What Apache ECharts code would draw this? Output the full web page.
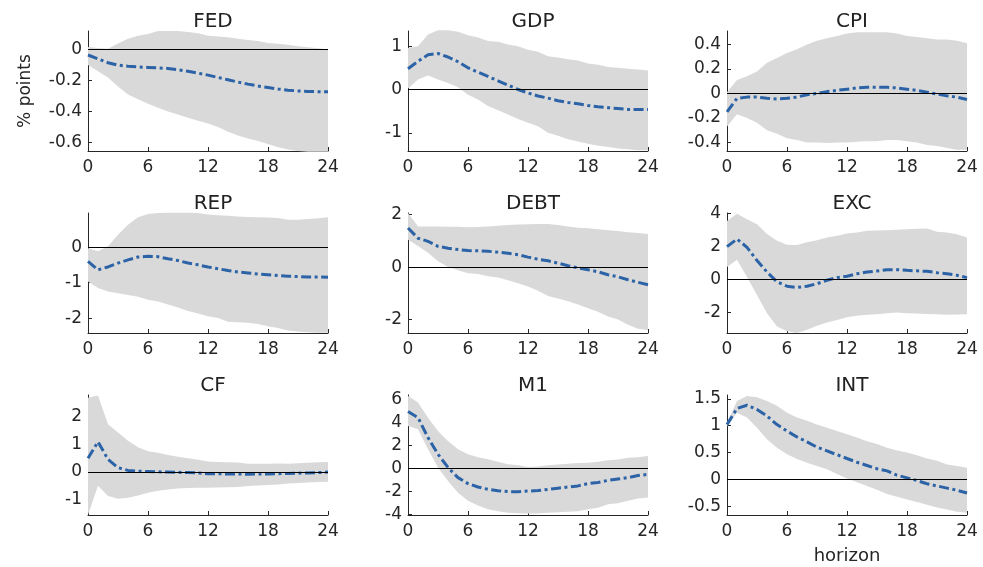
<!DOCTYPE html>
<html lang="en">
<head>
    <meta charset="UTF-8">
    <script src="https://cdn.jsdelivr.net/npm/echarts@6/dist/echarts.min.js"></script>
    <title>Impulse responses</title>
    <style>
        html, body { margin: 0; padding: 0; background: #fff; }
        #main { width: 983px; height: 567px; }
    </style>
</head>
<body>
    <div id="main"></div>
    <script>
        // horizons 0..24
        var horizon = ['0', '1', '2', '3', '4', '5', '6', '7', '8', '9', '10', '11', '12', '13', '14', '15', '16', '17', '18', '19', '20', '21', '22', '23', '24'];
        var names = ['FED', 'GDP', 'CPI', 'REP', 'DEBT', 'EXC', 'CF', 'M1', 'INT'];

        // point estimates (dash-dot line)
        var fedIrf = [-0.035, -0.06, -0.085, -0.1, -0.108, -0.112, -0.115, -0.118, -0.122, -0.13, -0.14, -0.152, -0.165, -0.18, -0.195, -0.21, -0.223, -0.235, -0.245, -0.255, -0.262, -0.267, -0.27, -0.272, -0.273];
        var gdpIrf = [0.48, 0.65, 0.8, 0.83, 0.75, 0.64, 0.5, 0.4, 0.3, 0.2, 0.1, 0.0, -0.08, -0.15, -0.2, -0.26, -0.3, -0.33, -0.37, -0.4, -0.42, -0.44, -0.46, -0.46, -0.46];
        var cpiIrf = [-0.15, -0.04, -0.03, -0.03, -0.04, -0.045, -0.04, -0.03, -0.01, 0.0, 0.015, 0.025, 0.035, 0.045, 0.05, 0.05, 0.05, 0.045, 0.035, 0.025, 0.01, -0.005, -0.02, -0.03, -0.05];
        var repIrf = [-0.4, -0.64, -0.56, -0.45, -0.36, -0.28, -0.26, -0.27, -0.33, -0.38, -0.45, -0.5, -0.56, -0.61, -0.66, -0.7, -0.73, -0.76, -0.78, -0.8, -0.82, -0.83, -0.84, -0.84, -0.85];
        var debtIrf = [1.49, 1.1, 0.98, 0.79, 0.72, 0.67, 0.63, 0.62, 0.6, 0.57, 0.53, 0.47, 0.38, 0.3, 0.24, 0.15, 0.05, -0.03, -0.1, -0.18, -0.29, -0.37, -0.48, -0.58, -0.67];
        var excIrf = [2.0, 2.46, 1.96, 1.16, 0.46, -0.14, -0.4, -0.48, -0.4, -0.25, -0.04, 0.12, 0.2, 0.35, 0.46, 0.52, 0.6, 0.6, 0.56, 0.53, 0.5, 0.42, 0.36, 0.26, 0.12];
        var cfIrf = [0.5, 1.1, 0.46, 0.16, 0.06, 0.03, 0.02, 0.01, 0.0, -0.01, -0.02, -0.03, -0.06, -0.06, -0.07, -0.07, -0.08, -0.07, -0.07, -0.06, -0.05, -0.04, -0.03, -0.02, 0.0];
        var m1Irf = [4.96, 4.43, 2.7, 1.25, 0.1, -0.78, -1.3, -1.6, -1.8, -1.92, -2.0, -2.0, -1.95, -1.9, -1.8, -1.7, -1.6, -1.5, -1.3, -1.2, -1.02, -0.9, -0.78, -0.6, -0.5];
        var intIrf = [1.02, 1.32, 1.38, 1.3, 1.18, 1.02, 0.9, 0.79, 0.7, 0.6, 0.53, 0.46, 0.39, 0.32, 0.26, 0.2, 0.16, 0.08, 0.03, -0.02, -0.08, -0.12, -0.16, -0.2, -0.25];

        // upper bands
        var fedHi = [0.017, 0.01, 0.006, 0.04, 0.07, 0.09, 0.1, 0.12, 0.12, 0.12, 0.113, 0.105, 0.09, 0.085, 0.08, 0.07, 0.062, 0.055, 0.043, 0.038, 0.032, 0.021, 0.015, 0.008, 0.0];
        var gdpHi = [0.96, 1.0, 1.27, 1.37, 1.37, 1.33, 1.25, 1.2, 1.12, 1.1, 1.04, 1.0, 0.92, 0.87, 0.77, 0.74, 0.7, 0.67, 0.6, 0.57, 0.52, 0.5, 0.48, 0.46, 0.44];
        var cpiHi = [0.01, 0.11, 0.14, 0.18, 0.25, 0.29, 0.33, 0.36, 0.4, 0.43, 0.45, 0.47, 0.49, 0.5, 0.5, 0.5, 0.5, 0.49, 0.47, 0.46, 0.45, 0.44, 0.44, 0.43, 0.41];
        var repHi = [-0.03, -0.12, 0.02, 0.35, 0.63, 0.84, 0.93, 0.96, 0.97, 0.97, 0.97, 0.96, 0.92, 0.9, 0.88, 0.86, 0.85, 0.84, 0.83, 0.82, 0.77, 0.77, 0.79, 0.81, 0.84];
        var debtHi = [2.06, 1.55, 1.55, 1.55, 1.54, 1.54, 1.52, 1.53, 1.55, 1.57, 1.6, 1.62, 1.63, 1.64, 1.64, 1.6, 1.55, 1.5, 1.48, 1.44, 1.4, 1.37, 1.33, 1.3, 1.26];
        var excHi = [3.56, 4.0, 3.66, 3.36, 2.76, 2.36, 2.12, 2.1, 2.26, 2.38, 2.56, 2.66, 2.8, 2.86, 2.96, 2.98, 3.0, 3.02, 3.06, 3.08, 3.1, 2.9, 2.86, 2.75, 2.56];
        var cfHi = [2.7, 2.78, 1.74, 1.44, 1.14, 0.9, 0.76, 0.7, 0.62, 0.56, 0.5, 0.45, 0.38, 0.37, 0.36, 0.35, 0.3, 0.3, 0.3, 0.31, 0.3, 0.32, 0.34, 0.36, 0.37];
        var m1Hi = [6.32, 5.74, 4.43, 3.28, 2.4, 1.68, 1.25, 1.0, 0.81, 0.6, 0.38, 0.3, 0.15, 0.18, 0.29, 0.35, 0.43, 0.5, 0.52, 0.6, 0.72, 0.8, 0.95, 1.0, 1.1];
        var intHi = [1.06, 1.46, 1.55, 1.53, 1.46, 1.37, 1.24, 1.15, 1.09, 1.02, 0.96, 0.9, 0.84, 0.78, 0.71, 0.66, 0.59, 0.54, 0.5, 0.45, 0.39, 0.35, 0.28, 0.25, 0.22];

        // lower bands
        var fedLo = [-0.1, -0.14, -0.18, -0.238, -0.29, -0.32, -0.35, -0.375, -0.4, -0.42, -0.44, -0.46, -0.477, -0.5, -0.53, -0.555, -0.575, -0.59, -0.61, -0.63, -0.645, -0.655, -0.66, -0.66, -0.66];
        var gdpLo = [0.02, 0.23, 0.32, 0.23, 0.15, 0.05, -0.12, -0.23, -0.38, -0.48, -0.58, -0.68, -0.77, -0.85, -1.0, -1.07, -1.15, -1.2, -1.25, -1.3, -1.33, -1.36, -1.38, -1.4, -1.4];
        var cpiLo = [-0.27, -0.17, -0.2, -0.24, -0.3, -0.33, -0.365, -0.38, -0.4, -0.4, -0.405, -0.4, -0.4, -0.395, -0.39, -0.39, -0.38, -0.38, -0.39, -0.4, -0.42, -0.43, -0.445, -0.46, -0.46];
        var repLo = [-0.97, -1.15, -1.25, -1.3, -1.35, -1.4, -1.48, -1.53, -1.62, -1.7, -1.8, -1.87, -1.95, -2.0, -2.1, -2.12, -2.13, -2.17, -2.23, -2.28, -2.35, -2.38, -2.4, -2.41, -2.41];
        var debtLo = [1.04, 0.8, 0.55, 0.22, 0.0, -0.12, -0.23, -0.26, -0.35, -0.4, -0.5, -0.62, -0.74, -0.9, -1.1, -1.2, -1.3, -1.42, -1.57, -1.7, -1.88, -2.0, -2.2, -2.35, -2.4];
        var excLo = [0.76, 1.2, 0.16, -0.94, -2.04, -2.84, -3.14, -3.24, -3.04, -2.8, -2.6, -2.45, -2.28, -2.2, -2.14, -2.1, -2.04, -2.0, -2.04, -2.06, -2.08, -2.1, -2.14, -2.12, -2.1];
        var cfLo = [-1.55, -0.5, -0.87, -0.97, -0.93, -0.85, -0.75, -0.68, -0.63, -0.6, -0.58, -0.57, -0.57, -0.56, -0.55, -0.54, -0.51, -0.49, -0.47, -0.45, -0.42, -0.4, -0.38, -0.36, -0.35];
        var m1Lo = [3.7, 3.42, 1.68, 0.1, -1.07, -2.1, -2.8, -3.2, -3.54, -3.7, -3.83, -3.88, -3.9, -3.9, -3.83, -3.8, -3.75, -3.7, -3.54, -3.4, -3.1, -3.0, -2.8, -2.6, -2.5];
        var intLo = [0.99, 1.24, 1.15, 0.96, 0.75, 0.59, 0.47, 0.38, 0.31, 0.25, 0.19, 0.1, 0.02, -0.05, -0.12, -0.19, -0.27, -0.32, -0.37, -0.42, -0.47, -0.52, -0.56, -0.6, -0.62];

        // y ticks and limits per panel
        var yTicks = [
            [-0.6, -0.4, -0.2, 0],
            [-1, 0, 1],
            [-0.4, -0.2, 0, 0.2, 0.4],
            [-2, -1, 0],
            [-2, 0, 2],
            [-2, 0, 2, 4],
            [-1, 0, 1, 2],
            [-4, -2, 0, 2, 4, 6],
            [-0.5, 0, 0.5, 1, 1.5]
        ];
        var yMin = [-0.655, -1.42, -0.47, -2.42, -2.51, -3.24, -1.56, -4.03, -0.66];
        var yMax = [0.12, 1.35, 0.51, 0.96, 2.06, 4.04, 2.8, 6.4, 1.57];

        var irfs = [fedIrf, gdpIrf, cpiIrf, repIrf, debtIrf, excIrf, cfIrf, m1Irf, intIrf];
        var his = [fedHi, gdpHi, cpiHi, repHi, debtHi, excHi, cfHi, m1Hi, intHi];
        var los = [fedLo, gdpLo, cpiLo, repLo, debtLo, excLo, cfLo, m1Lo, intLo];

        var colLeft = [88, 408, 727];
        var rowTop = [31, 213, 395];
        var plotW = 240, plotH = 120;

        var axisColor = '#262626';
        var font = 'DejaVu Sans';

        var chart = echarts.init(document.getElementById('main'));

        var grids = [], xAxes = [], yAxes = [], titles = [], series = [];

        for (var i = 0; i < 9; i++) {
            var c = i % 3, r = Math.floor(i / 3);
            grids.push({ left: colLeft[c], top: rowTop[r], width: plotW, height: plotH, containLabel: false });

            titles.push({
                text: names[i],
                left: colLeft[c] + plotW / 2,
                top: rowTop[r] - 24,
                textAlign: 'center',
                textStyle: { fontFamily: font, fontSize: 20, fontWeight: 'normal', color: '#222' }
            });

            xAxes.push({
                type: 'category', gridIndex: i, data: horizon, boundaryGap: false,
                axisLine: { onZero: false, lineStyle: { color: axisColor, width: 1 } },
                axisTick: { inside: true, length: 4, interval: 5, lineStyle: { color: axisColor } },
                axisLabel: { fontFamily: font, fontSize: 17, color: '#262626', margin: 8, interval: 5 },
                splitLine: { show: false },
                name: i === 8 ? 'horizon' : '',
                nameLocation: 'middle', nameGap: 32,
                nameTextStyle: { fontFamily: font, fontSize: 18, color: '#262626' }
            });

            yAxes.push({
                type: 'value', gridIndex: i, min: yMin[i], max: yMax[i],
                axisLine: { show: true, onZero: false, lineStyle: { color: axisColor, width: 1 } },
                axisTick: { show: true, inside: true, length: 4, customValues: yTicks[i], lineStyle: { color: axisColor } },
                axisLabel: { fontFamily: font, fontSize: 17, color: '#262626', margin: 6, customValues: yTicks[i] },
                splitLine: { show: false },
                name: i === 0 ? '% points' : '',
                nameLocation: 'middle', nameGap: 54, nameRotate: 90,
                nameTextStyle: { fontFamily: font, fontSize: 17, color: '#262626' }
            });

            var width = his[i].map(function (v, k) { return v - los[i][k]; });

            series.push({
                type: 'line', xAxisIndex: i, yAxisIndex: i,
                stack: 'band' + i, stackStrategy: 'all',
                data: los[i], symbol: 'none', silent: true,
                lineStyle: { opacity: 0 }
            });
            series.push({
                type: 'line', xAxisIndex: i, yAxisIndex: i,
                stack: 'band' + i, stackStrategy: 'all',
                data: width, symbol: 'none', silent: true,
                lineStyle: { opacity: 0 },
                areaStyle: { color: '#d9d9d9', opacity: 1 }
            });
            series.push({
                type: 'line', xAxisIndex: i, yAxisIndex: i,
                data: irfs[i], symbol: 'none', silent: true,
                lineStyle: { color: '#2c63a6', width: 3, type: [10, 3.5, 3, 3.5] },
                markLine: {
                    silent: true, symbol: ['none', 'none'],
                    label: { show: false },
                    lineStyle: { color: '#000', width: 1, type: 'solid' },
                    data: [{ yAxis: 0 }]
                },
                z: 3
            });
        }

        chart.setOption({
            animation: false,
            backgroundColor: '#fff',
            title: titles,
            grid: grids,
            xAxis: xAxes,
            yAxis: yAxes,
            series: series
        });
    </script>
</body>
</html>
